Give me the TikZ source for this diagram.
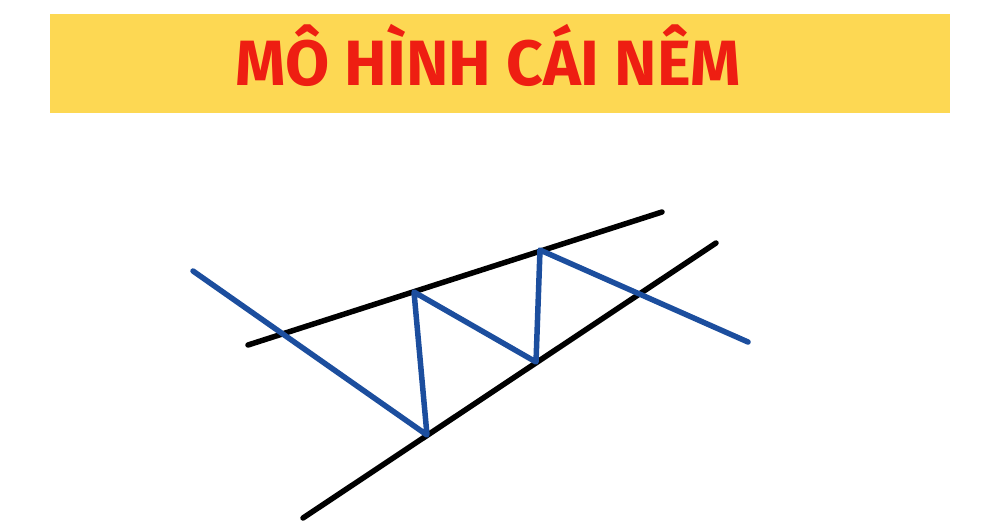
\documentclass[tikz,border=0pt]{standalone}
\usepackage{fontspec}
\setmainfont{Fira Sans}
\usepackage{tikz}
\usepackage{xcolor}
\usetikzlibrary{positioning}

\definecolor{bannerYellow}{RGB}{253,216,83}
\definecolor{titleRed}{RGB}{238,30,18}
\definecolor{zigBlue}{RGB}{28,78,158}

\begin{document}
\begin{tikzpicture}[x=1pt, y=-1pt, line cap=round, line join=round,
  trend/.style={line width=5.5pt, black},
  zigzag/.style={line width=5.5pt, zigBlue}]
  \useasboundingbox (0,0) rectangle (1000,528);

  % Banner
  \fill[bannerYellow] (50,14) rectangle (950,113);
  \node[anchor=base, inner sep=0pt, text=titleRed, font=\fontsize{64}{72}\selectfont\bfseries] (title) at (488.5,85.5) {MÔ HÌNH CÁI NÊM};

  % Points
  \coordinate (upA) at (248,345);
  \coordinate (upB) at (662,212);
  \coordinate (lowA) at (303,518);
  \coordinate (lowB) at (716,243);
  \coordinate (start) at (193,271);
  \coordinate (bot1) at (427,435);
  \coordinate (top1) at (414,292);
  \coordinate (bot2) at (536,362);
  \coordinate (top2) at (540,250);
  \coordinate (finish) at (748,342);

  % Trend lines
  \draw[trend] (upA) -- (upB);
  \draw[trend] (lowA) -- (lowB);

  % Price path
  \draw[zigzag] (start) -- (bot1) -- (top1) -- (bot2) -- (top2) -- (finish);
\end{tikzpicture}
\end{document}
